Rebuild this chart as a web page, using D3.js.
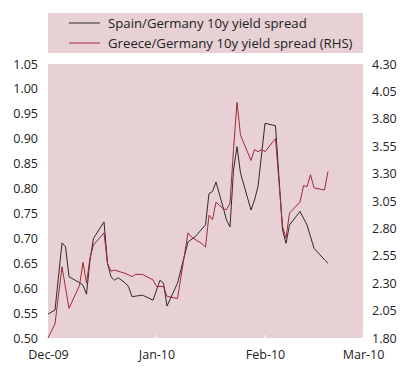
<!DOCTYPE html>
<html>
<head>
<meta charset="utf-8">
<script src="https://cdn.jsdelivr.net/npm/d3@7"></script>
<style>
  body { margin: 0; background: #fff; }
  text { font-family: "Open Sans", sans-serif; fill: #222; }
</style>
</head>
<body>
<div id="chart"></div>
<script>
// dates of the points (null = no reading for that series on that day)
var dates = ["2009-12-01","2009-12-03","2009-12-05","2009-12-06","2009-12-07","2009-12-10","2009-12-11",
  "2009-12-12","2009-12-13","2009-12-14","2009-12-17","2009-12-18","2009-12-19","2009-12-20","2009-12-21",
  "2009-12-23","2009-12-24","2009-12-25","2009-12-26","2009-12-28","2009-12-31","2010-01-01","2010-01-02",
  "2010-01-03","2010-01-04","2010-01-07","2010-01-10","2010-01-11","2010-01-12","2010-01-14","2010-01-15",
  "2010-01-16","2010-01-17","2010-01-18","2010-01-20","2010-01-21","2010-01-22","2010-01-23","2010-01-24",
  "2010-01-25","2010-01-28","2010-01-29","2010-01-30","2010-01-31","2010-02-01","2010-02-04","2010-02-06",
  "2010-02-07","2010-02-08","2010-02-11","2010-02-12","2010-02-13","2010-02-14","2010-02-15","2010-02-18",
  "2010-02-19"];

var spain = [0.548,0.556,0.691,0.683,0.623,0.611,0.606,
  0.588,0.657,0.700,0.733,0.650,0.623,0.616,0.621,
  0.611,0.603,0.583,null,0.586,0.576,null,0.616,
  0.610,0.564,0.610,0.693,null,0.703,null,0.727,
  0.790,0.794,0.813,0.763,0.737,0.723,0.837,0.884,
  0.831,0.757,0.777,0.804,null,0.931,0.926,0.717,
  0.690,0.727,0.754,null,0.727,null,0.680,0.657,
  0.650];

var greece = [1.80,1.93,2.45,null,2.07,2.28,2.49,
  2.30,2.53,2.65,2.76,2.48,2.41,2.42,null,
  2.39,null,2.36,2.38,2.38,2.33,2.27,null,
  2.27,2.18,2.16,2.76,2.72,null,2.66,2.63,
  2.92,2.88,3.04,2.98,2.97,3.03,3.52,3.95,
  3.65,3.42,3.52,3.50,3.52,3.50,3.62,2.82,
  2.71,2.94,3.04,3.19,3.18,3.29,3.17,3.15,
  3.32];

var leftTicks = [0.50,0.55,0.60,0.65,0.70,0.75,0.80,0.85,0.90,0.95,1.00,1.05];
var rightTicks = [1.80,2.05,2.30,2.55,2.80,3.05,3.30,3.55,3.80,4.05,4.30];
var monthTicks = ["2009-12-01","2010-01-01","2010-02-01","2010-03-01"];

var seriesNames = ["Spain/Germany 10y yield spread", "Greece/Germany 10y yield spread (RHS)"];
var seriesColors = ["#2a2a2a", "#9e2a36"];

var pink = "#e8d1d5";

// dimensions and margins of the graph
var W = 419, H = 385;
var margin = {top: 64, right: 56, bottom: 47, left: 48},
    width = W - margin.left - margin.right,
    height = H - margin.top - margin.bottom;

var svg = d3.select("#chart")
  .append("svg")
    .attr("width", W)
    .attr("height", H);

var parseDate = d3.utcParse("%Y-%m-%d");

var x = d3.scaleUtc()
  .domain([parseDate("2009-12-01"), parseDate("2010-03-01")])
  .range([margin.left, margin.left + width]);

var yL = d3.scaleLinear()
  .domain([0.50, 1.05])
  .range([margin.top + height, margin.top]);

var yR = d3.scaleLinear()
  .domain([1.80, 4.30])
  .range([margin.top + height, margin.top]);

// legend box
svg.append("rect")
  .attr("x", margin.left).attr("y", 13)
  .attr("width", width).attr("height", 40)
  .attr("fill", pink);

seriesNames.forEach(function(name, i) {
  var ly = 23 + i * 20;
  svg.append("line")
    .attr("x1", 69).attr("x2", 100)
    .attr("y1", ly).attr("y2", ly)
    .attr("stroke", seriesColors[i])
    .attr("stroke-width", 1);
  svg.append("text")
    .attr("x", 108).attr("y", ly + 5)
    .style("font-size", "13.2px")
    .text(name);
});

// plot background
svg.append("rect")
  .attr("x", margin.left).attr("y", margin.top)
  .attr("width", width).attr("height", height)
  .attr("fill", pink);

// left axis
var gL = svg.append("g")
  .attr("transform", "translate(" + margin.left + ",0)")
  .call(d3.axisLeft(yL).tickValues(leftTicks).tickFormat(d3.format(".2f")).tickSize(0).tickPadding(10));
gL.select(".domain").remove();
gL.selectAll("text").style("font-size", "12.5px").attr("fill", "#222");

// right axis
var gR = svg.append("g")
  .attr("transform", "translate(" + (margin.left + width) + ",0)")
  .call(d3.axisRight(yR).tickValues(rightTicks).tickFormat(d3.format(".2f")).tickSize(0).tickPadding(9));
gR.select(".domain").remove();
gR.selectAll("text").style("font-size", "12.5px").attr("fill", "#222");

// bottom axis
var gB = svg.append("g")
  .attr("transform", "translate(0," + (margin.top + height) + ")")
  .call(d3.axisBottom(x)
    .tickValues(monthTicks.map(parseDate))
    .tickFormat(d3.utcFormat("%b-%y"))
    .tickSize(0).tickPadding(12));
gB.select(".domain").remove();
gB.selectAll("text").style("font-size", "12.5px").attr("fill", "#222");

// small white tick marks on the bottom edge
svg.selectAll(".wtick")
  .data(monthTicks.slice(1).map(parseDate))
  .enter().append("line")
    .attr("x1", function(d) { return x(d); })
    .attr("x2", function(d) { return x(d); })
    .attr("y1", margin.top + height - 3)
    .attr("y2", margin.top + height)
    .attr("stroke", "#fff")
    .attr("stroke-width", 1);

// the lines
function points(vals) {
  return dates.map(function(d, i) { return {date: parseDate(d), value: vals[i]}; })
    .filter(function(p) { return p.value != null; });
}

svg.append("path")
  .datum(points(spain))
  .attr("fill", "none")
  .attr("stroke", seriesColors[0])
  .attr("stroke-width", 1)
  .attr("d", d3.line()
    .x(function(d) { return x(d.date); })
    .y(function(d) { return yL(d.value); }));

svg.append("path")
  .datum(points(greece))
  .attr("fill", "none")
  .attr("stroke", seriesColors[1])
  .attr("stroke-width", 1)
  .attr("d", d3.line()
    .x(function(d) { return x(d.date); })
    .y(function(d) { return yR(d.value); }));
</script>
</body>
</html>
